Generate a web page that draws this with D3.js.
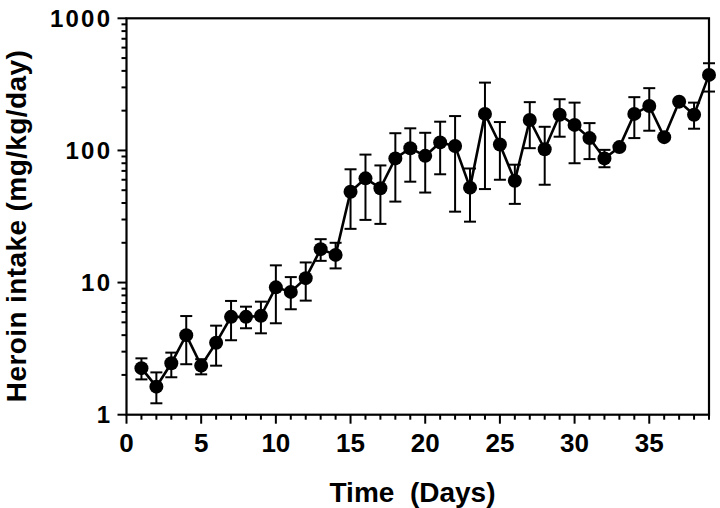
<!DOCTYPE html>
<html><head><meta charset="utf-8">
<script src="https://cdn.jsdelivr.net/npm/d3@7"></script>
<style>body{margin:0;background:#fff}svg{display:block}text{font-family:"Liberation Sans",Arial,sans-serif;font-weight:bold;fill:#000}</style>
</head><body>
<script>
const days = [1,2,3,4,5,6,7,8,9,10,11,12,13,14,15,16,17,18,19,20,21,22,23,24,25,26,27,28,29,30,31,32,33,34,35,36,37,38,39];
const intake = [2.25,1.63,2.45,4.0,2.35,3.5,5.5,5.5,5.6,9.2,8.5,10.8,17.9,16.2,48.7,61.5,51.8,87,104,91,115,108,52.3,189,111,59,170,102,186,156,124,87,106,189,217,126,234,186,373];
const errHigh = [2.67,2.09,2.95,5.58,2.63,4.72,7.26,6.57,7.17,13.5,11.0,14.2,21.3,20.0,72,93,77,135,147,136,165,182,73,326,164,78,232,151,244,230,161,101,106,253,296,126,234,230,457];
const errLow = [1.85,1.22,1.92,2.41,2.02,2.35,3.66,4.51,4.13,4.92,6.28,7.3,14.6,12.8,25.5,29.8,27.8,41,58,48,66,34.4,28.9,51,60,39.4,104,55,127,80,86,74.6,106,124,141,126,234,146,279];
const xTicks = [0,5,10,15,20,25,30,35];
const yTicks = [1,10,100,1000];

const W=720,H=508;
const m={left:126.5,right:709,top:18.3,bottom:414.7};
const svg=d3.select("body").append("svg").attr("width",W).attr("height",H);
const x=d3.scaleLinear().domain([0,39]).range([m.left,m.right]);
const y=d3.scaleLog().domain([1,1000]).range([m.bottom,m.top]);

// frame
svg.append("rect").attr("x",m.left).attr("y",m.top).attr("width",m.right-m.left).attr("height",m.bottom-m.top)
  .attr("fill","none").attr("stroke","#000").attr("stroke-width",2.2);

// x axis ticks
const xMinor=d3.range(0,40);
svg.append("g").selectAll("line").data(xMinor).join("line")
  .attr("x1",d=>x(d)).attr("x2",d=>x(d)).attr("y1",m.bottom)
  .attr("y2",d=>m.bottom+(d%5===0?9:5)).attr("stroke","#000").attr("stroke-width",2);
svg.append("g").selectAll("text").data(xTicks).join("text")
  .attr("x",d=>x(d)).attr("y",451.5).attr("text-anchor","middle").attr("font-size",26).text(d=>d);

// y axis ticks
const yMinor=[];
[1,10,100].forEach(b=>{for(let k=2;k<=9;k++)yMinor.push(b*k);});
svg.append("g").selectAll("line").data(yMinor).join("line")
  .attr("x1",m.left-5).attr("x2",m.left).attr("y1",d=>y(d)).attr("y2",d=>y(d)).attr("stroke","#000").attr("stroke-width",2);
svg.append("g").selectAll("line").data(yTicks).join("line")
  .attr("x1",m.left-9).attr("x2",m.left).attr("y1",d=>y(d)).attr("y2",d=>y(d)).attr("stroke","#000").attr("stroke-width",2);
svg.append("g").selectAll("text").data(yTicks).join("text")
  .attr("x",112.2).attr("y",d=>y(d)+8.5).attr("text-anchor","end").attr("font-size",24)
  .attr("letter-spacing",2.2).text(d=>d);

// titles
svg.append("text").attr("x",412.5).attr("y",501.5).attr("text-anchor","middle").attr("font-size",28)
  .attr("xml:space","preserve").text("Time  (Days)");
svg.append("text").attr("transform","translate(26,226) rotate(-90)").attr("text-anchor","middle").attr("font-size",28)
  .attr("letter-spacing",0.4).text("Heroin intake (mg/kg/day)");

// error bars
const data=days.map((d,i)=>({d,v:intake[i],hi:errHigh[i],lo:errLow[i]}));
const eb=svg.append("g").attr("stroke","#000").attr("stroke-width",2);
data.forEach(p=>{
  if(p.hi>p.v*1.02){
    eb.append("line").attr("x1",x(p.d)).attr("x2",x(p.d)).attr("y1",y(p.v)).attr("y2",y(p.hi));
    eb.append("line").attr("x1",x(p.d)-6).attr("x2",x(p.d)+6).attr("y1",y(p.hi)).attr("y2",y(p.hi));
  }
  if(p.lo<p.v*0.98){
    eb.append("line").attr("x1",x(p.d)).attr("x2",x(p.d)).attr("y1",y(p.v)).attr("y2",y(p.lo));
    eb.append("line").attr("x1",x(p.d)-6).attr("x2",x(p.d)+6).attr("y1",y(p.lo)).attr("y2",y(p.lo));
  }
});

// line
svg.append("path").datum(data).attr("fill","none").attr("stroke","#000").attr("stroke-width",2.6)
  .attr("d",d3.line().x(p=>x(p.d)).y(p=>y(p.v)));
// points
svg.append("g").selectAll("circle").data(data).join("circle")
  .attr("cx",p=>x(p.d)).attr("cy",p=>y(p.v)).attr("r",7).attr("fill","#000");
</script>
</body></html>
